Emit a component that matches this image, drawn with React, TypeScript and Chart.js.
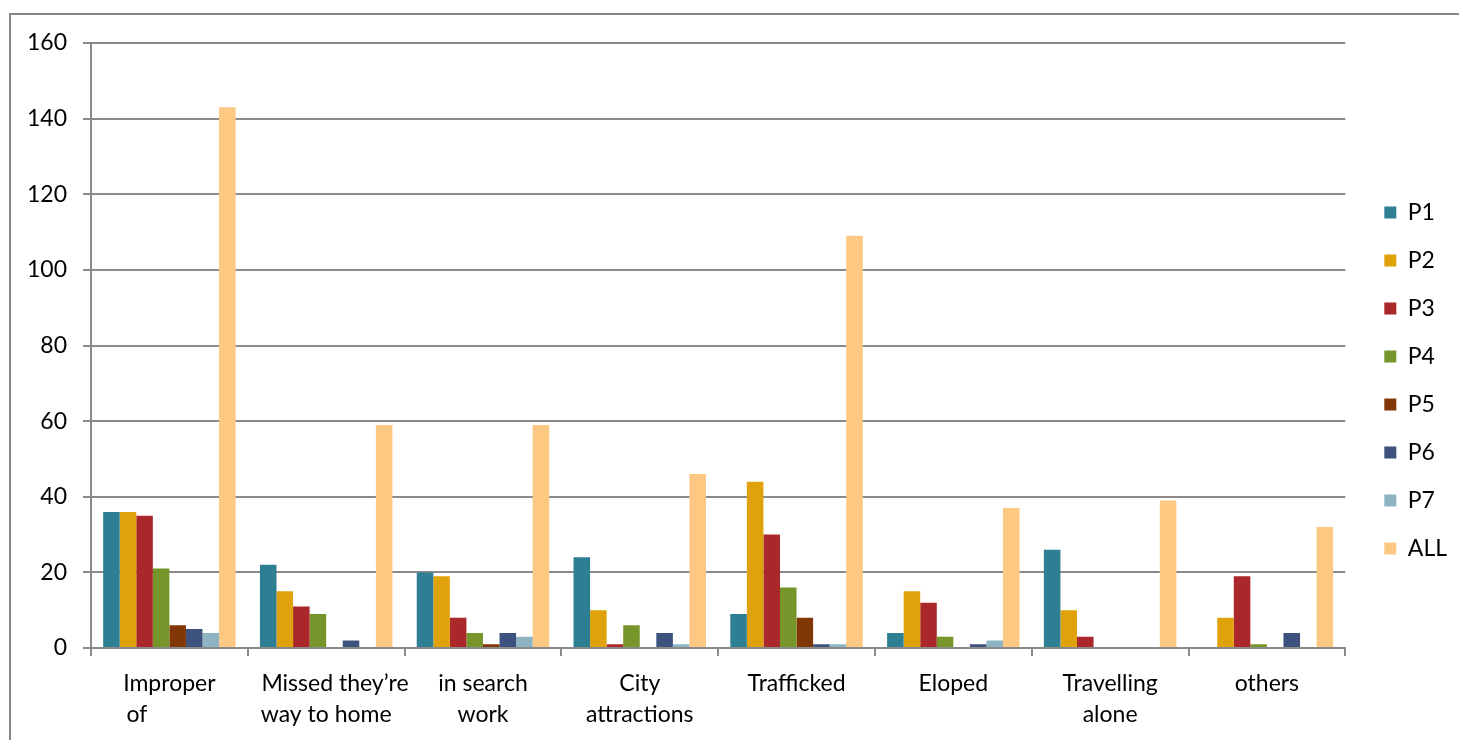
import { useEffect, useRef } from "react";
import { Chart, registerables } from "chart.js";

Chart.register(...registerables);

const categories: (string | string[])[] = [
  ["Improper", "of           "],
  ["   Missed they’re", "way to home"],
  ["in search", "work"],
  ["City", "attractions"],
  "Trafficked",
  "Eloped",
  ["Travelling", "alone"],
  "others",
];

const seriesNames = ["P1", "P2", "P3", "P4", "P5", "P6", "P7", "ALL"];
const p1 = [36, 22, 20, 24, 9, 4, 26, 0];
const p2 = [36, 15, 19, 10, 44, 15, 10, 8];
const p3 = [35, 11, 8, 1, 30, 12, 3, 19];
const p4 = [21, 9, 4, 6, 16, 3, 0, 1];
const p5 = [6, 0, 1, 0, 8, 0, 0, 0];
const p6 = [5, 2, 4, 4, 1, 1, 0, 4];
const p7 = [4, 0, 3, 1, 1, 2, 0, 0];
const all = [143, 59, 59, 46, 109, 37, 39, 32];
const seriesValues = [p1, p2, p3, p4, p5, p6, p7, all];
const seriesColors = ["#2E7F93", "#E0A20A", "#AA272A", "#76962C", "#823806", "#3D527D", "#8EB3C2", "#FDC882"];

const yMin = 0;
const yMax = 160;
const yStep = 20;

const FONT = "Lato, 'Open Sans', sans-serif";
const LEGEND_DX = 14;
const LEGEND_DY = -11;

const legendShift = {
  id: "legendShift",
  afterLayout(chart: any) {
    const l = chart.legend;
    if (!l) return;
    l.left += LEGEND_DX;
    l.right += LEGEND_DX;
    l.top += LEGEND_DY;
    l.bottom += LEGEND_DY;
  },
};

export default function App() {
  const ref = useRef<HTMLCanvasElement | null>(null);
  useEffect(() => {
    if (!ref.current) return;
    const chart = new Chart(ref.current, {
      type: "bar",
      data: {
        labels: categories,
        datasets: seriesNames.map((n, i) => ({
          label: n,
          data: seriesValues[i],
          backgroundColor: seriesColors[i],
          borderWidth: 0,
          categoryPercentage: 0.845,
          barPercentage: 1,
        })),
      },
      options: {
        responsive: false,
        animation: false,
        devicePixelRatio: 1,
        layout: { padding: { top: 43, right: 16, bottom: 0, left: 0 } },
        plugins: {
          tooltip: { enabled: false },
          legend: {
            position: "right",
            labels: {
              boxWidth: 12,
              boxHeight: 12,
              padding: 25,
              color: "#000",
              font: { family: FONT, size: 23 },
            },
          },
        },
        scales: {
          x: {
            afterFit: (s: any) => {
              s.height = 92;
            },
            grid: {
              offset: true,
              drawOnChartArea: false,
              drawTicks: true,
              tickLength: 8,
              color: "#8a8a8a",
              lineWidth: 2,
            },
            border: { display: true, color: "#8a8a8a", width: 2 },
            ticks: {
              color: "#000",
              padding: 12,
              maxRotation: 0,
              autoSkip: false,
              font: { family: FONT, size: 23, lineHeight: 1.35 },
            },
          },
          y: {
            min: yMin,
            max: yMax,
            afterFit: (s: any) => {
              s.width = 91;
            },
            grid: {
              color: "#8a8a8a",
              lineWidth: 2,
              drawTicks: true,
              tickLength: 8,
            },
            border: { display: true, color: "#8a8a8a", width: 2 },
            ticks: {
              stepSize: yStep,
              color: "#000",
              padding: 16,
              font: { family: FONT, size: 23 },
            },
          },
        },
      },
      plugins: [legendShift],
    });
    return () => chart.destroy();
  }, []);

  return (
    <div style={{ position: "fixed", left: 0, top: 0, width: 1459, height: 740, overflow: "hidden", background: "#fff" }}>
      <div
        style={{
          position: "absolute",
          left: 9,
          top: 13,
          width: 1600,
          height: 900,
          borderLeft: "2px solid #868686",
          borderTop: "2px solid #868686",
        }}
      />
      <canvas ref={ref} width={1459} height={740} style={{ position: "absolute", left: 0, top: 0, width: 1459, height: 740 }} />
    </div>
  );
}
